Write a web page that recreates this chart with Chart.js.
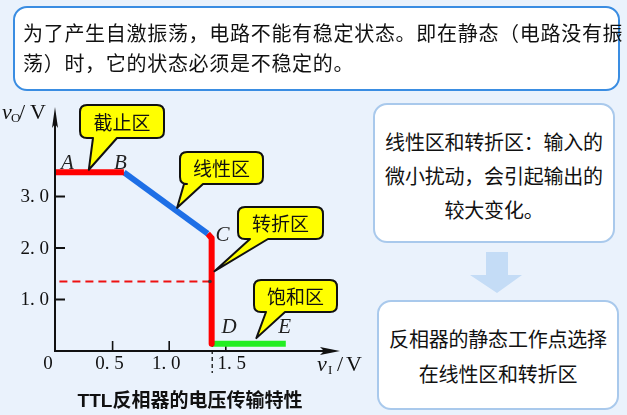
<!DOCTYPE html>
<html>
<head>
<meta charset="utf-8">
<script src="https://cdn.jsdelivr.net/npm/chart.js@4/dist/chart.umd.min.js"></script>
<style>
  html, body { margin: 0; padding: 0; }
  body { width: 627px; height: 415px; background: #eaf2fc; position: relative; overflow: hidden;
         font-family: "Noto Sans CJK SC", sans-serif; color: #111; }
  #chartWrap { position: absolute; left: 0; top: 0; width: 627px; height: 415px; }
  .box { position: absolute; background: #fff; box-sizing: border-box; white-space: nowrap; }
  #topBox { left: 13px; top: 6px; width: 607px; height: 85px; border: 2px solid #3a8de2; border-radius: 14px;
            font-size: 20px; line-height: 30px; padding: 10px 0 0 8px; letter-spacing: 0.7px; }
  #box1 { left: 373px; top: 103px; width: 242px; height: 140px; border: 2px solid #a9c9ec; border-radius: 14px;
          font-size: 20px; line-height: 34px; padding-top: 20px; text-align: center; letter-spacing: -0.2px; }
  #box2 { left: 377px; top: 300px; width: 242px; height: 110px; border: 2px solid #a9c9ec; border-radius: 14px;
          font-size: 20px; line-height: 35px; padding-top: 19px; text-align: center; letter-spacing: -0.2px; }
  #arrow { position: absolute; left: 468px; top: 252px; }
  #caption { position: absolute; left: 40px; top: 388px; width: 300px; text-align: center; font-size: 19px;
             font-weight: bold; font-family: "Liberation Sans", "Noto Sans CJK SC", sans-serif; line-height: 26px; }
</style>
</head>
<body>
<div id="chartWrap"><canvas id="c" width="627" height="415"></canvas></div>
<div id="topBox" class="box">为了产生自激振荡，电路不能有稳定状态。即在静态（电路没有振<br>荡）时，它的状态必须是不稳定的。</div>
<div id="box1" class="box">线性区和转折区：输入的<br>微小扰动，会引起输出的<br>较大变化。</div>
<svg id="arrow" width="56" height="44"><polygon points="18,0 40,0 40,23 54,23 29,41 2,23 18,23" fill="#c4dcf6"/></svg>
<div id="box2" class="box">反相器的静态工作点选择<br>在线性区和转折区</div>
<div id="caption">TTL反相器的电压传输特性</div>
<script>
// ---- data (v_I in V, v_O in V) ----
const cutoffX = [0, 0.6];
const cutoffY = [3.47, 3.47];
const linearX = [0.6, 1.34];
const linearY = [3.47, 2.28];
const transX = [1.34, 1.375, 1.375];
const transY = [2.28, 2.19, 0.14];
const satX = [1.385, 2.03];
const satY = [0.14, 0.14];
const thresholdX = [0.03, 1.36];
const thresholdY = [1.35, 1.35];
const thresholdInputV = 1.38;

const xTicks = [0.5, 1.0, 1.5];
const xTickLabels = ['0. 5', '1. 0', '1. 5'];
const yTicks = [1.0, 2.0, 3.0];
const yTickLabels = ['1. 0', '2. 0', '3. 0'];

const pointNames = ['A', 'B', 'C', 'D', 'E'];
const pointNameX = [0.1, 0.57, 1.47, 1.53, 2.02];
const pointNameY = [3.65, 3.65, 2.25, 0.45, 0.45];

const regionNames = ['截止区', '线性区', '转折区', '饱和区'];
const regionTipX = [0.29, 1.07, 1.40, 1.77];
const regionTipY = [3.52, 2.78, 1.55, 0.25];

// ---- styling / layout of callout boxes (pixels) ----
const calloutBoxes = [
  {x: 80, y: 105, w: 84, h: 33, b1: 93, b2: 117},
  {x: 180, y: 152, w: 83, h: 32, b1: 184, b2: 203},
  {x: 238, y: 207, w: 85, h: 32, b1: 250, b2: 268},
  {x: 254, y: 280, w: 83, h: 32, b1: 266, b2: 285}
];

const pts = (xs, ys) => xs.map((x, i) => ({x: x, y: ys[i]}));

function calloutPath(ctx, b, tx, ty) {
  const r = 7, x = b.x, y = b.y, w = b.w, h = b.h;
  ctx.beginPath();
  ctx.moveTo(x + r, y);
  ctx.lineTo(x + w - r, y);
  ctx.quadraticCurveTo(x + w, y, x + w, y + r);
  ctx.lineTo(x + w, y + h - r);
  ctx.quadraticCurveTo(x + w, y + h, x + w - r, y + h);
  ctx.lineTo(b.b2, y + h);
  ctx.lineTo(tx, ty);
  ctx.lineTo(b.b1, y + h);
  ctx.lineTo(x + r, y + h);
  ctx.quadraticCurveTo(x, y + h, x, y + h - r);
  ctx.lineTo(x, y + r);
  ctx.quadraticCurveTo(x, y, x + r, y);
  ctx.closePath();
}

const axesPlugin = {
  id: 'axesPlugin',
  beforeDatasetsDraw(chart) {
    const ctx = chart.ctx;
    const xs = chart.scales.x, ys = chart.scales.y;
    const x0 = xs.getPixelForValue(0), y0 = ys.getPixelForValue(0);
    const xEnd = xs.getPixelForValue(xs.max), yEnd = ys.getPixelForValue(ys.max);
    ctx.save();
    ctx.strokeStyle = '#111'; ctx.fillStyle = '#111'; ctx.lineWidth = 2;
    ctx.beginPath(); ctx.moveTo(x0 - 1, y0); ctx.lineTo(xEnd - 4, y0); ctx.stroke();
    ctx.beginPath(); ctx.moveTo(x0 - 1, y0 + 1); ctx.lineTo(x0 - 1, yEnd + 4); ctx.stroke();
    // arrows
    ctx.beginPath(); ctx.moveTo(xEnd + 1, y0); ctx.lineTo(xEnd - 19, y0 - 4); ctx.lineTo(xEnd - 15, y0);
    ctx.lineTo(xEnd - 19, y0 + 4); ctx.closePath(); ctx.fill();
    ctx.beginPath(); ctx.moveTo(x0 - 1, yEnd - 3); ctx.lineTo(x0 - 4, yEnd + 18); ctx.lineTo(x0 - 1, yEnd + 14);
    ctx.lineTo(x0 + 2, yEnd + 18); ctx.closePath(); ctx.fill();
    // ticks
    ctx.lineWidth = 2;
    yTicks.forEach(v => { const p = ys.getPixelForValue(v); ctx.beginPath(); ctx.moveTo(x0 - 1, p); ctx.lineTo(x0 + 9, p); ctx.stroke(); });
    ctx.lineWidth = 1.6;
    xTicks.forEach(v => { const p = xs.getPixelForValue(v); ctx.beginPath(); ctx.moveTo(p, y0); ctx.lineTo(p, y0 - 10); ctx.stroke(); });
    // tick labels
    ctx.font = '19px "Liberation Serif", serif';
    ctx.textBaseline = 'middle';
    ctx.textAlign = 'right';
    yTicks.forEach((v, i) => ctx.fillText(yTickLabels[i], x0 - 7, ys.getPixelForValue(v) + 1));
    ctx.textAlign = 'center';
    xTicks.forEach((v, i) => ctx.fillText(xTickLabels[i], xs.getPixelForValue(v) - 3 + (i === 2 ? 9 : 0), y0 + 13));
    ctx.fillText('0', x0 - 8, y0 + 13);
    // threshold dashed marker on x axis
    ctx.setLineDash([4, 3]); ctx.lineWidth = 1.3;
    const tx = xs.getPixelForValue(thresholdInputV);
    ctx.beginPath(); ctx.moveTo(tx, y0 - 8); ctx.lineTo(tx, y0 + 22); ctx.stroke();
    ctx.setLineDash([]);
    // axis titles
    ctx.textAlign = 'left'; ctx.textBaseline = 'alphabetic';
    ctx.font = 'italic 22px "Liberation Serif", serif'; ctx.fillText('v', 2, 119);
    ctx.font = '13px "Liberation Serif", serif'; ctx.fillText('O', 11, 122);
    ctx.font = '22px "Liberation Serif", serif'; ctx.fillText('/', 19, 119); ctx.fillText('V', 30, 119);
    ctx.font = 'italic 22px "Liberation Serif", serif'; ctx.fillText('v', 317, 371);
    ctx.font = '13px "Liberation Serif", serif'; ctx.fillText('I', 328, 374);
    ctx.font = '22px "Liberation Serif", serif'; ctx.fillText('/', 337, 371); ctx.fillText('V', 346, 371);
    ctx.restore();
  },
  afterDatasetsDraw(chart) {
    const ctx = chart.ctx;
    const xs = chart.scales.x, ys = chart.scales.y;
    ctx.save();
    // small dot at end of threshold dashes
    ctx.fillStyle = '#333';
    ctx.beginPath(); ctx.arc(xs.getPixelForValue(thresholdX[1]), ys.getPixelForValue(thresholdY[1]), 1.8, 0, Math.PI * 2); ctx.fill();
    // point names
    ctx.font = 'italic 21px "Liberation Serif", serif';
    ctx.fillStyle = '#222'; ctx.textAlign = 'center'; ctx.textBaseline = 'middle';
    pointNames.forEach((n, i) => ctx.fillText(n, xs.getPixelForValue(pointNameX[i]), ys.getPixelForValue(pointNameY[i])));
    // callouts
    regionNames.forEach((name, i) => {
      const b = calloutBoxes[i];
      const tx = xs.getPixelForValue(regionTipX[i]), ty = ys.getPixelForValue(regionTipY[i]);
      calloutPath(ctx, b, tx, ty);
      ctx.fillStyle = '#ffff00'; ctx.fill();
      ctx.lineWidth = 2; ctx.strokeStyle = '#111'; ctx.lineJoin = 'round'; ctx.stroke();
      ctx.fillStyle = '#111'; ctx.font = '19px "Noto Sans CJK SC", sans-serif';
      ctx.textAlign = 'center'; ctx.textBaseline = 'middle';
      ctx.fillText(name, b.x + b.w / 2, b.y + b.h / 2 + 1);
    });
    ctx.restore();
  }
};

new Chart(document.getElementById('c'), {
  type: 'line',
  data: {
    datasets: [
      {label: '阈值', data: pts(thresholdX, thresholdY), borderColor: '#ee1111', borderWidth: 2, borderDash: [8, 5], pointRadius: 0, clip: false},
      {label: '截止区', data: pts(cutoffX, cutoffY), borderColor: '#ff0000', borderWidth: 6, pointRadius: 0, clip: false},
      {label: '线性区', data: pts(linearX, linearY), borderColor: '#1e6fe6', borderWidth: 6, pointRadius: 0, clip: false},
      {label: '转折区', data: pts(transX, transY), borderColor: '#ff0000', borderWidth: 6, pointRadius: 0, clip: false, borderJoinStyle: 'round'},
      {label: '饱和区', data: pts(satX, satY), borderColor: '#22ee22', borderWidth: 6, pointRadius: 0, clip: false}
    ]
  },
  options: {
    responsive: false,
    animation: false,
    events: [],
    layout: {padding: {left: 56, right: 288, top: 110, bottom: 64}},
    plugins: {legend: {display: false}, tooltip: {enabled: false}},
    scales: {
      x: {type: 'linear', min: 0, max: 2.5, display: false},
      y: {type: 'linear', min: 0, max: 4.68, display: false}
    }
  },
  plugins: [axesPlugin]
});
</script>
</body>
</html>
